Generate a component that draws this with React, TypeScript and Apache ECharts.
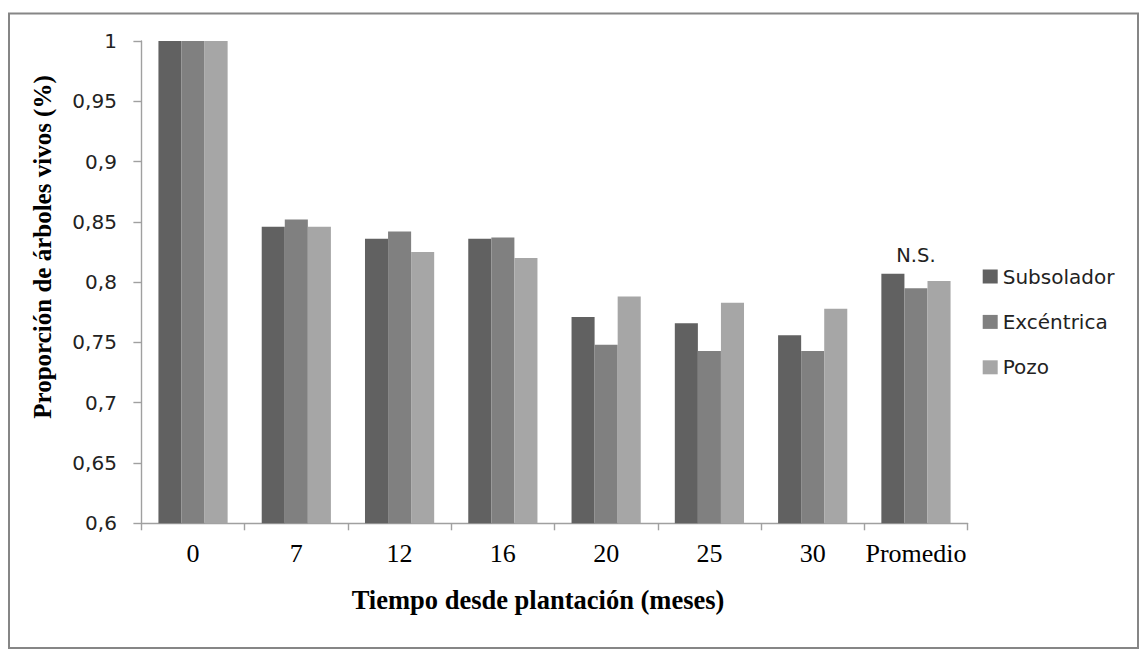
import React, { useEffect, useRef } from "react";
import * as echarts from "echarts";

const categories = ["0", "7", "12", "16", "20", "25", "30", "Promedio"];
const subsolador = [1.0, 0.846, 0.836, 0.836, 0.771, 0.766, 0.756, 0.807];
const excentrica = [1.0, 0.852, 0.842, 0.837, 0.748, 0.743, 0.743, 0.795];
const pozo = [1.0, 0.846, 0.825, 0.82, 0.788, 0.783, 0.778, 0.801];
const seriesNames = ["Subsolador", "Excéntrica", "Pozo"];
const seriesColors = ["#616161", "#808080", "#a6a6a6"];
const yMin = 0.6;
const yMax = 1;
const yInterval = 0.05;
const noteText = "N.S.";
const noteIndex = 7;
const yTitle = "Proporción de árboles vivos (%)";
const xTitle = "Tiempo desde plantación (meses)";

export default function App() {
  const ref = useRef<HTMLDivElement>(null);

  useEffect(() => {
    document.body.style.margin = "0";
    document.body.style.overflow = "hidden";
    const chart = echarts.init(ref.current!, undefined, { renderer: "svg" });

    const excData = excentrica.map((v, i) =>
      i === noteIndex
        ? {
            value: v,
            label: {
              show: true,
              position: "top",
              distance: 23,
              formatter: noteText,
              fontFamily: "DejaVu Sans",
              fontSize: 19.5,
              color: "#222",
            },
          }
        : v
    );

    const allData = [subsolador, excData, pozo];

    chart.setOption({
      animation: false,
      backgroundColor: "#ffffff",
      grid: {
        left: 141.4,
        top: 41,
        right: 178.4,
        bottom: 128.7,
        containLabel: false,
        outerBoundsMode: "none",
      },
      legend: {
        orient: "vertical",
        left: 977.7,
        top: 260,
        itemWidth: 15,
        itemHeight: 14,
        itemGap: 22.4,
        icon: "rect",
        data: seriesNames,
        textStyle: {
          fontFamily: "DejaVu Sans",
          fontSize: 20,
          lineHeight: 23,
          color: "#222",
        },
      },
      xAxis: {
        type: "category",
        data: categories,
        axisLine: { show: true, lineStyle: { color: "#a0a0a0", width: 1.4 } },
        axisTick: { show: true, length: 7, lineStyle: { color: "#a0a0a0", width: 1.4 } },
        axisLabel: {
          fontFamily: "Liberation Serif",
          fontSize: 26,
          color: "#000",
          margin: 17,
          interval: 0,
        },
        splitLine: { show: false },
      },
      yAxis: {
        type: "value",
        min: yMin,
        max: yMax,
        interval: yInterval,
        axisLine: { show: true, lineStyle: { color: "#a0a0a0", width: 1.4 } },
        axisTick: { show: true, length: 8, lineStyle: { color: "#a0a0a0", width: 1.4 } },
        splitLine: { show: false },
        axisLabel: {
          fontFamily: "DejaVu Sans",
          fontSize: 20,
          color: "#222",
          margin: 24.5,
          formatter: (v: number) =>
            String(parseFloat(v.toFixed(2))).replace(".", ","),
        },
      },
      series: seriesNames.map((name, i) => ({
        name,
        type: "bar",
        data: allData[i],
        barGap: "0%",
        barCategoryGap: "33%",
        itemStyle: { color: seriesColors[i] },
      })),
      graphic: [
        {
          type: "rect",
          shape: { x: 9, y: 13.5, width: 1129, height: 634.5 },
          style: { fill: "none", stroke: "#868686", lineWidth: 2 },
          silent: true,
        },
        {
          type: "text",
          x: 42.7,
          y: 247,
          rotation: Math.PI / 2,
          style: {
            text: yTitle,
            fontFamily: "Liberation Serif",
            fontWeight: "bold",
            fontSize: 25,
            fill: "#000",
            align: "center",
            verticalAlign: "middle",
          },
        },
        {
          type: "text",
          x: 538,
          y: 600,
          style: {
            text: xTitle,
            fontFamily: "Liberation Serif",
            fontWeight: "bold",
            fontSize: 26.5,
            fill: "#000",
            align: "center",
            verticalAlign: "middle",
          },
        },
      ],
    });

    return () => chart.dispose();
  }, []);

  return <div ref={ref} style={{ width: 1146, height: 652 }} />;
}
